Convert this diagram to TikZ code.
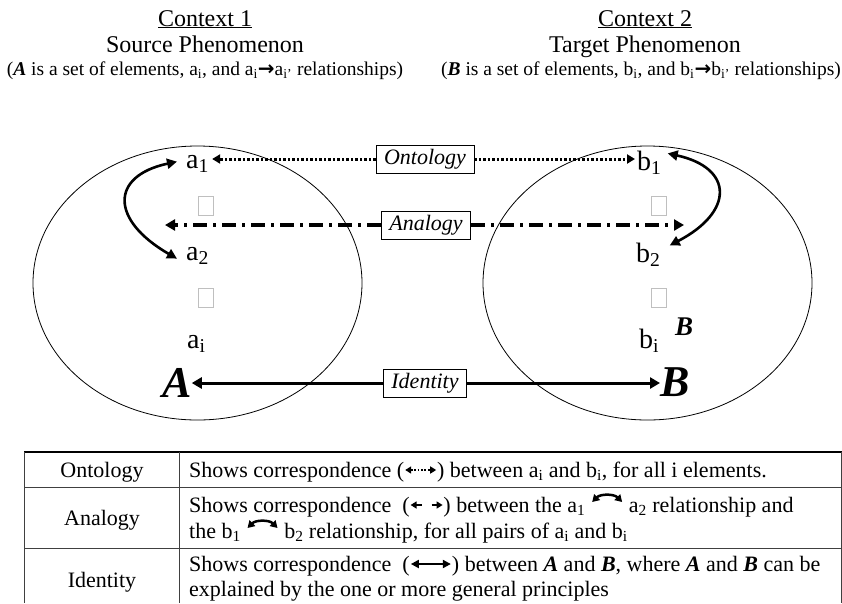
\documentclass[tikz,border=0pt]{standalone}
\usepackage{fontspec}
\setmainfont{Liberation Serif}
\newfontfamily\symfont{DejaVu Sans}
\usetikzlibrary{arrows.meta,calc}

\newcommand{\BI}[1]{\textbf{\textit{#1}}}
\newcommand{\lo}[1]{\textsubscript{#1}}
\newcommand{\rel}{{\symfont\bfseries\fontsize{20}{23}\selectfont →}}
% small inline arrows used in the legend table
\newcommand{\ontarrow}{\tikz[baseline=0pt]{\draw[line width=1.9pt,dash pattern=on 1.7pt off 1.7pt,{Triangle[length=6pt,width=7pt]}-{Triangle[length=6pt,width=7pt]}] (0pt,7pt) -- (31pt,7pt);}}
\newcommand{\anarrows}{\tikz[baseline=0pt]{\draw[line width=1.7pt,-{Triangle[length=6pt,width=7pt]}] (11pt,7pt) -- (0pt,7pt);\draw[line width=1.7pt,-{Triangle[length=6pt,width=7pt]}] (21pt,7pt) -- (32pt,7pt);}}
\newcommand{\idarrow}{\tikz[baseline=0pt]{\draw[line width=2.2pt,{Triangle[length=8pt,width=8pt]}-{Triangle[length=8pt,width=8pt]}] (0pt,7pt) -- (40pt,7pt);}}
\newcommand{\arcarrow}{\tikz[baseline=0pt]{\draw[line width=2.5pt,{Triangle[length=7pt,width=8pt]}-{Triangle[length=7pt,width=8pt]}] (0pt,10pt) to[bend left=45] (30pt,10pt);}}

\begin{document}
\begin{tikzpicture}[x=1pt,y=-1pt,
  hdr/.style={font=\fontsize{24}{28}\selectfont,anchor=base,inner sep=0pt},
  sub/.style={font=\fontsize{19.5}{23}\selectfont,anchor=base,inner sep=0pt},
  elem/.style={font=\fontsize{28}{31}\selectfont,anchor=base west,inner sep=0pt},
  bigl/.style={font=\fontsize{44}{48}\selectfont\bfseries\itshape,anchor=base west,inner sep=0pt},
  ghost/.style={draw=gray!50,line width=0.7pt,minimum width=15pt,minimum height=19pt,inner sep=0pt},
  tag/.style={draw,line width=0.8pt,fill=white,font=\fontsize{22}{26}\selectfont\itshape,inner xsep=8pt,inner ysep=0pt,minimum height=28pt},
  ontline/.style={line width=3pt,dash pattern=on 2.5pt off 2pt,-{Triangle[length=8pt,width=9pt]}},
  anline/.style={line width=3.5pt,dash pattern=on 14pt off 6pt on 3pt off 6pt,-{Triangle[length=10pt,width=11pt]}},
  idline/.style={line width=3pt,-{Triangle[length=10pt,width=11pt]}},
  curv/.style={line width=2.6pt,{Triangle[length=10pt,width=10pt]}-{Triangle[length=10pt,width=10pt]}},
  tcell/.style={font=\fontsize{22}{26}\selectfont,anchor=base,inner sep=0pt},
  trow/.style={font=\fontsize{22}{26}\selectfont,anchor=base west,inner sep=0pt},
  rule/.style={line width=1pt,draw=black!75}
]
\useasboundingbox (0,0) rectangle (842,603);

% headings
\node[hdr] (c1) at (205,26) {\underline{Context 1}};
\node[hdr] (s1) at (205,52) {Source Phenomenon};
\node[sub] (d1) at (205,75) {(\BI{A} is a set of elements, a\lo{i}, and a\lo{i}\rel a\lo{i'} relationships)};
\node[hdr] (c2) at (645,26) {\underline{Context 2}};
\node[hdr] (s2) at (645,52) {Target Phenomenon};
\node[sub] (d2) at (641,75) {(\BI{B} is a set of elements, b\lo{i}, and b\lo{i}\rel b\lo{i'} relationships)};

% the two contexts
\draw[line width=0.8pt] (197.5,283) ellipse [x radius=164.5,y radius=137];
\draw[line width=0.8pt] (647.5,283) ellipse [x radius=164.5,y radius=137];

% elements of A
\node[elem] (a1) at (186,168) {a\lo{1}};
\node[elem] (a2) at (186,260) {a\lo{2}};
\node[elem] (ai) at (187,348) {a\lo{i}};
\node[ghost] (ga1) at (205.5,206) {};
\node[ghost] (ga2) at (205.5,298) {};
\node[bigl] (A) at (162,397) {A};

% elements of B
\node[elem] (b1) at (637,170) {b\lo{1}};
\node[elem] (b2) at (636,262) {b\lo{2}};
\node[elem] (bi) at (639,348) {b\lo{i}};
\node[ghost] (gb1) at (658.5,206) {};
\node[ghost] (gb2) at (658.5,298) {};
\node[font=\fontsize{27}{30}\selectfont\bfseries\itshape,anchor=base west,inner sep=0pt] (Bs) at (675,335) {B};
\node[bigl] (B) at (660,396) {B};

% correspondence labels
\node[tag] (onto) at (425,159) {Ontology};
\node[tag] (ana) at (426,225) {Analogy};
\node[tag] (iden) at (425,383) {Identity};
\coordinate (anL) at (165,225);
\coordinate (anR) at (684,225);

% ontology: element to element
\draw[ontline] (onto.west) -- ([xshift=3pt]onto.west -| a1.east);
\draw[ontline] (onto.east) -- ([xshift=-2pt]onto.east -| b1.west);
% analogy: relationship to relationship
\draw[anline] (ana.west) -- (anL);
\draw[anline] (ana.east) -- (anR);
% identity: whole to whole
\draw[idline] (iden.west) -- (iden.west -| A.east);
\draw[idline] (iden.east) -- (iden.east -| B.west);

% relationships inside each context
\draw[curv] ([xshift=-9pt,yshift=2pt]a1.west) .. controls (110,176) and (110,220) .. ([xshift=-9pt,yshift=-3pt]a2.west);
\draw[curv] ([xshift=6pt,yshift=-3pt]b1.north east) .. controls (734,168) and (734,212) .. ([xshift=9pt,yshift=-3pt]b2.north east);

% legend table
\draw[line width=2pt] (24,452) -- (842,452);
\draw[rule] (24,487) -- (842,487);
\draw[rule] (24,548) -- (842,548);
\draw[rule] (24,452) -- (24,603);
\draw[rule] (179,452) -- (179,603);
\draw[rule] (841,452) -- (841,603);

\node[tcell] (t1) at (102,477) {Ontology};
\node[tcell] (t2) at (102,525) {Analogy};
\node[tcell] (t3) at (102,587) {Identity};

\node[trow] (r1) at (189,477) {Shows correspondence (\ontarrow) between a\lo{i} and b\lo{i}, for all i elements.};
\node[trow] (r2a) at (189,512) {Shows correspondence~ (\anarrows) between the a\lo{1} \arcarrow{} a\lo{2} relationship and};
\node[trow] (r2b) at (189,538) {the b\lo{1} \arcarrow{} b\lo{2} relationship, for all pairs of a\lo{i} and b\lo{i}};
\node[trow] (r3a) at (189,571) {Shows correspondence~ (\idarrow) between \BI{A} and \BI{B}, where \BI{A} and \BI{B} can be};
\node[trow] (r3b) at (189,596) {explained by the one or more general principles};
\end{tikzpicture}
\end{document}
